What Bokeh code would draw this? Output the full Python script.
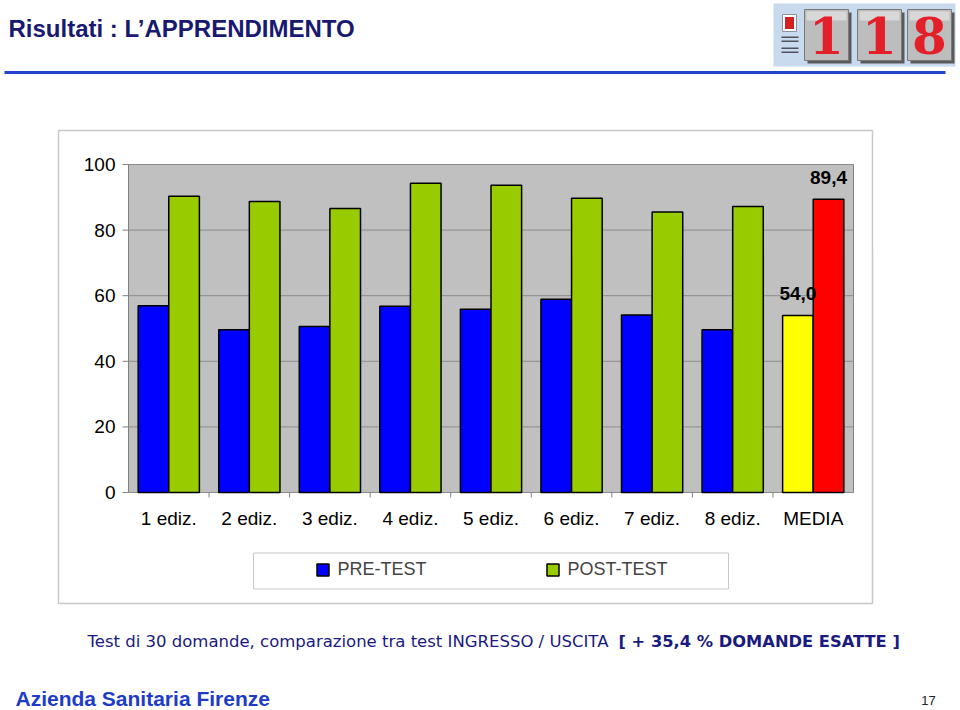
from bokeh.plotting import figure
from bokeh.models import Range1d, Legend, LegendItem, ColumnDataSource
from bokeh.transform import dodge
from bokeh.core.properties import value
from bokeh.embed import file_html
from bokeh.resources import INLINE

# ---------------- data ----------------
categories = ["1 ediz.", "2 ediz.", "3 ediz.", "4 ediz.", "5 ediz.",
              "6 ediz.", "7 ediz.", "8 ediz.", "MEDIA"]
pre_test = [56.9, 49.6, 50.6, 56.8, 55.9, 58.9, 54.1, 49.6, 54.0]
post_test = [90.3, 88.7, 86.6, 94.3, 93.7, 89.7, 85.5, 87.2, 89.4]
series_names = ["PRE-TEST", "POST-TEST"]
y_ticks = [0, 20, 40, 60, 80, 100]
title_text = "Risultati : L\u2019APPRENDIMENTO"
note_text = "Test di 30 domande, comparazione tra test INGRESSO / USCITA"
note_bold = "[ + 35,4 %  DOMANDE ESATTE ]"
footer_text = "Azienda Sanitaria Firenze"
page_number = "17"
logo_digits = ["1", "1", "8"]

# ---------------- styles ----------------
BLUE, GREEN, YELLOW, RED = "#0000FF", "#99CC00", "#FFFF00", "#FF0000"
NAVY = "#191970"
FONT = "Liberation Sans"
AXIS_GRAY = "#808080"
highlight = categories[-1]
pre_colors = [YELLOW if c == highlight else BLUE for c in categories]
post_colors = [RED if c == highlight else GREEN for c in categories]

W, H = 960, 710
# plot-area placement on the page (pixels)
AREA_L, AREA_R, AREA_B, AREA_T = 128, 853, 492, 164

n = len(categories)
centers = [i + 0.5 for i in range(n)]
ymin, ymax = y_ticks[0], y_ticks[-1]
ux = (AREA_R - AREA_L) / n            # px per category
uy = (AREA_B - AREA_T) / (ymax - ymin)  # px per unit

p = figure(width=W, height=H, x_range=Range1d(0, W), y_range=Range1d(H, 0),
           x_axis_location=None, y_axis_location=None, min_border=0,
           output_backend="svg", toolbar_location=None)
p.grid.visible = False
p.outline_line_color = None
p.background_fill_color = "white"
p.border_fill_color = "white"
p.extra_x_ranges = {"cat": Range1d(-AREA_L / ux, (W - AREA_L) / ux)}
p.extra_y_ranges = {"val": Range1d(ymin - (H - AREA_B) / uy, ymin + AREA_B / uy)}

# chart container box
p.quad(left=58, right=872, top=130, bottom=603, fill_alpha=0,
       line_color="#C8C8C8", line_width=1.5)

# plot area
p.quad(left=0, right=n, bottom=ymin, top=ymax, x_range_name="cat", y_range_name="val",
       fill_color="#C0C0C0", line_color=AXIS_GRAY, line_width=1)
# grid lines
p.segment(x0=[0] * len(y_ticks), x1=[n] * len(y_ticks), y0=y_ticks, y1=y_ticks,
          x_range_name="cat", y_range_name="val", line_color="#8C8C8C", line_width=1)
# y ticks and labels
p.segment(x0=[-6 / ux] * len(y_ticks), x1=[0] * len(y_ticks), y0=y_ticks, y1=y_ticks,
          x_range_name="cat", y_range_name="val", line_color=AXIS_GRAY, line_width=1)
p.text(x=[0] * len(y_ticks), y=y_ticks, text=[str(t) for t in y_ticks],
       x_range_name="cat", y_range_name="val", x_offset=-13,
       text_align="right", text_baseline="middle", text_font=value(FONT),
       text_font_size="19px", text_color="black")
# x separator ticks and category labels
bounds = list(range(1, n))
p.segment(x0=bounds, x1=bounds, y0=[ymin] * len(bounds), y1=[ymin - 5 / uy] * len(bounds),
          x_range_name="cat", y_range_name="val", line_color=AXIS_GRAY, line_width=1)
p.text(x=centers, y=[ymin] * n, text=categories, x_range_name="cat", y_range_name="val",
       y_offset=25.5, text_align="center", text_baseline="middle",
       text_font=value(FONT), text_font_size="19px", text_color="black")

# bars
src = ColumnDataSource(dict(x=centers, cat=categories, pre=pre_test, post=post_test,
                            pre_color=pre_colors, post_color=post_colors))
r_pre = p.vbar(x=dodge("x", -0.19), top="pre", bottom=ymin, width=0.38, source=src,
               x_range_name="cat", y_range_name="val",
               fill_color="pre_color", line_color="black", line_width=1.5)
r_post = p.vbar(x=dodge("x", 0.19), top="post", bottom=ymin, width=0.38, source=src,
                x_range_name="cat", y_range_name="val",
                fill_color="post_color", line_color="black", line_width=1.5)

def fmt(v):
    return f"{v:.1f}".replace(".", ",")

for vals, off in ((pre_test, -0.19), (post_test, 0.19)):
    lsrc = ColumnDataSource(dict(x=[centers[-1]], val=[vals[-1]], txt=[fmt(vals[-1])]))
    p.text(x=dodge("x", off), y="val", text="txt", source=lsrc,
           x_range_name="cat", y_range_name="val",
           text_align="center", text_baseline="middle", y_offset=-22,
           text_font=value(FONT), text_font_style="bold", text_font_size="19px",
           text_color="black")

# legend
p.quad(left=253, right=728, top=552.5, bottom=588.5, fill_alpha=0,
       line_color="#C8C8C8", line_width=1)
legend = Legend(items=[LegendItem(label=series_names[0], renderers=[r_pre], index=0),
                       LegendItem(label=series_names[1], renderers=[r_post], index=0)],
                orientation="horizontal", location=(314.5, H - 558.5 - 21),
                padding=0, margin=0, spacing=10, glyph_width=15, glyph_height=15,
                label_standoff=8, label_width=197, label_text_font=FONT,
                label_text_font_size="18px", border_line_alpha=0, background_fill_alpha=0)
p.add_layout(legend)

# title and rule
p.text(x=[8], y=[28], text=[title_text], text_baseline="middle",
       text_font=value(FONT), text_font_style="bold", text_font_size="24px",
       text_color=NAVY)
p.quad(left=4, right=945, top=70.5, bottom=73.5, fill_color="#2244CC", line_alpha=0)

# logo
p.quad(left=773, right=955, top=3, bottom=66, fill_color="#C8DAEE", line_alpha=0)
p.quad(left=782, right=796, top=14, bottom=31, fill_color="white", line_color="#9090A0")
p.quad(left=784.5, right=793.5, top=16.5, bottom=28.5, fill_color="#D42020", line_alpha=0)
bar_y = [36, 40, 47, 51]
p.quad(left=[781] * 4, right=[798] * 4, top=bar_y, bottom=[y + 1.5 for y in bar_y],
       fill_color="#50505A", line_alpha=0)
tile_x = [804, 857, 907]
p.quad(left=[x + 3 for x in tile_x], right=[x + 47 for x in tile_x], top=[12] * 3,
       bottom=[63] * 3, fill_color="#5A5A5A", line_alpha=0)
p.quad(left=tile_x, right=[x + 44 for x in tile_x], top=[9] * 3, bottom=[60] * 3,
       fill_color="#BDBDBD", line_color="#7A7A7A")
p.quad(left=[x + 2 for x in tile_x], right=[x + 42 for x in tile_x], top=[11] * 3,
       bottom=[20] * 3, fill_color="#D8D8D8", line_alpha=0)
p.text(x=[x + 22 for x in tile_x], y=[35] * 3, text=logo_digits, text_align="center",
       text_baseline="middle", text_font=value("DejaVu Serif"),
       text_font_style="bold", text_font_size="50px", text_color="#E3202A")

# footnotes
p.text(x=[87], y=[641.3], text=[note_text], text_baseline="middle",
       text_font=value("DejaVu Sans"), text_font_size="16.5px", text_color="#1A1A80")
p.text(x=[618], y=[641.3], text=[note_bold], text_baseline="middle",
       text_font=value("DejaVu Sans"), text_font_style="bold", text_font_size="16.3px",
       text_color="#1A1A80")
p.text(x=[15], y=[698], text=[footer_text], text_baseline="middle",
       text_font=value(FONT), text_font_style="bold", text_font_size="21px",
       text_color="#1E3CC8")
p.text(x=[928], y=[700], text=[page_number], text_baseline="middle",
       text_align="center", text_font=value(FONT), text_font_size="13px",
       text_color="#222222")

open("out.html", "w").write(file_html(p, INLINE))
